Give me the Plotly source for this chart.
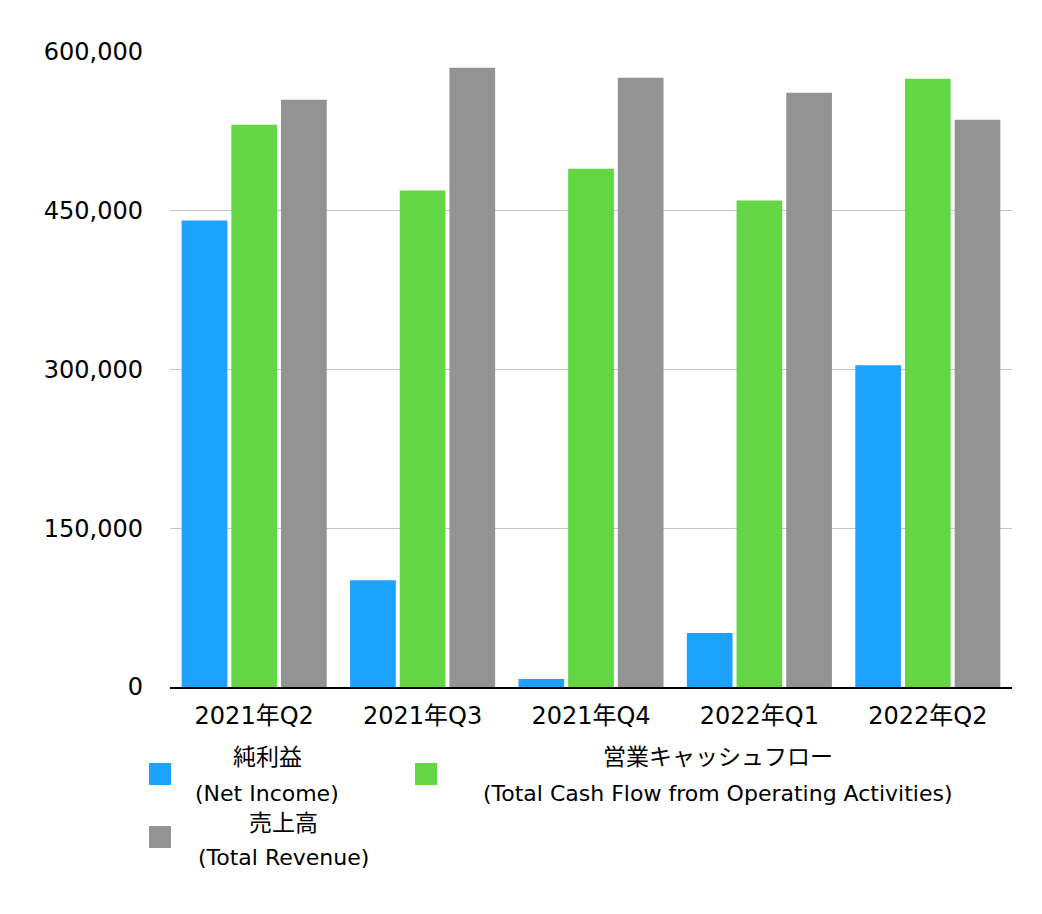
import plotly.graph_objects as go

categories = ["2021年Q2", "2021年Q3", "2021年Q4", "2022年Q1", "2022年Q2"]
net_income = [440500, 100900, 7500, 50900, 303800]
operating_cf = [531100, 468900, 489600, 459400, 574500]
total_revenue = [554700, 584900, 575500, 561300, 535800]
tick_vals = [0, 150000, 300000, 450000, 600000]
tick_text = ["0", "150,000", "300,000", "450,000", "600,000"]

series_names = [("純利益", "(Net Income)"),
                ("営業キャッシュフロー", "(Total Cash Flow from Operating Activities)"),
                ("売上高", "(Total Revenue)")]
colors = ["#1EA2FF", "#63D645", "#939393"]

FONT = "DejaVu Sans, Noto Sans CJK JP, sans-serif"

fig = go.Figure()
for vals, name, col in zip([net_income, operating_cf, total_revenue], series_names, colors):
    fig.add_trace(go.Bar(x=categories, y=vals, name=name[0], marker_color=col,
                         marker_line_width=0, showlegend=False))

# page has an 8px body margin; figure is placed at (8, 8)
OFF = 8
W, H = 1034, 906
L, R, T, B = 162, 30, 43, 227
pw, ph = W - L - R, H - T - B

def px(x):
    return (x - OFF - L) / pw

def py(y):
    return (H - B - (y - OFF)) / ph

# manual legend (centered two-line labels): square x, square y, text center x, line1 y, line2 y
legend_items = [
    (149, 763, 267, 757, 793),
    (415, 763, 718, 757, 793),
    (149, 826, 283, 823, 857),
]
for (sx, sy, tx, ty1, ty2), name, col in zip(legend_items, series_names, colors):
    fig.add_shape(type="rect", xref="paper", yref="paper",
                  x0=px(sx), x1=px(sx + 22), y0=py(sy + 22), y1=py(sy),
                  fillcolor=col, line_width=0)
    fig.add_annotation(xref="paper", yref="paper", x=px(tx), y=py(ty1),
                       text=name[0], showarrow=False, xanchor="center", yanchor="middle",
                       font=dict(size=23, color="#000", family=FONT))
    fig.add_annotation(xref="paper", yref="paper", x=px(tx), y=py(ty2),
                       text=name[1], showarrow=False, xanchor="center", yanchor="middle",
                       font=dict(size=22, color="#000", family=FONT))

fig.update_layout(
    width=W, height=H,
    margin=dict(l=L, r=R, t=T, b=B, pad=0),
    paper_bgcolor="white", plot_bgcolor="white",
    barmode="group", bargap=0.115, bargroupgap=0.08,
    font=dict(family=FONT, size=24, color="#000"),
    xaxis=dict(showgrid=False, showline=True, linecolor="#000", linewidth=2,
               ticks="", tickfont=dict(size=24), ticklabelstandoff=6),
    yaxis=dict(range=[0, 600700], tickvals=tick_vals, ticktext=tick_text,
               showgrid=True, gridcolor="#C4C4C4", gridwidth=1, zeroline=False,
               showline=False, ticks="", tickfont=dict(size=24), ticklabelstandoff=26),
)

fig.write_html("out.html")
